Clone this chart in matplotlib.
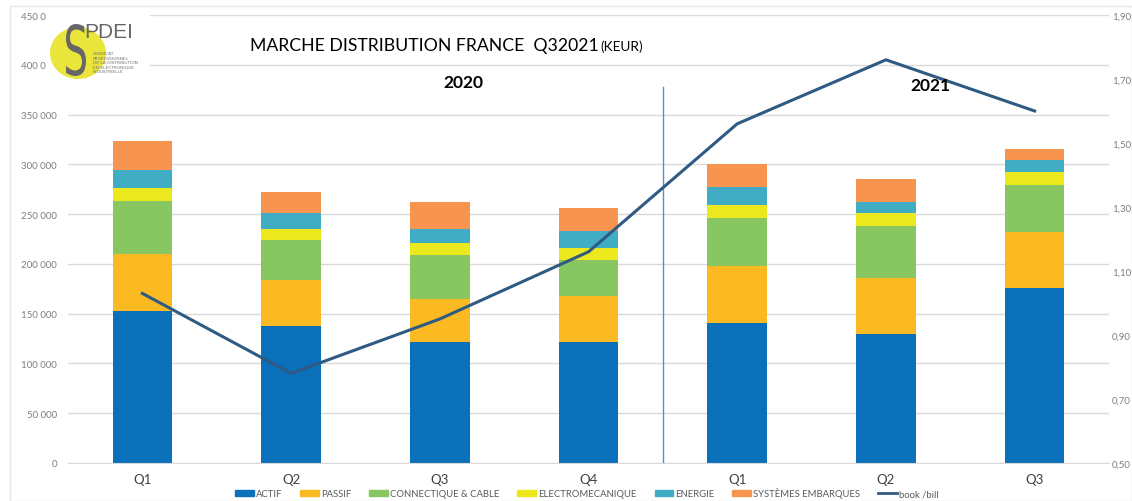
import matplotlib
matplotlib.use("Agg")
import matplotlib.pyplot as plt
import matplotlib.patches as mpatches
from matplotlib.lines import Line2D
from matplotlib.ticker import FuncFormatter, MultipleLocator, FixedLocator
from matplotlib.textpath import TextPath
from matplotlib.font_manager import FontProperties
from matplotlib.transforms import Affine2D, IdentityTransform
import numpy as np

categories = ["Q1", "Q2", "Q3", "Q4", "Q1", "Q2", "Q3"]
series_names = ["ACTIF", "PASSIF", "CONNECTIQUE & CABLE", "ELECTROMECANIQUE", "ENERGIE", "SYSTÈMES EMBARQUES"]
actif = [153000, 137500, 122000, 122000, 140500, 129500, 176000]
passif = [56500, 46500, 43000, 46000, 57500, 56000, 56000]
connectique = [53500, 40000, 44000, 36000, 48000, 53000, 47000]
electromecanique = [13000, 11000, 12000, 12000, 13000, 13000, 13000]
energie = [18000, 16500, 14000, 17000, 18000, 11000, 12500]
systemes = [29000, 20500, 27000, 23000, 23000, 23000, 11000]
book_bill = [1.03, 0.78, 0.95, 1.16, 1.56, 1.76, 1.60]
right_ticks = [0.5, 0.7, 0.9, 1.1, 1.3, 1.5, 1.7, 1.9]
year_labels = ["2020", "2021"]

colors = ["#0A70B9", "#FCBA22", "#88C661", "#EBE81E", "#41ADC4", "#F79550"]
line_color = "#2F5A83"
font = "Lato"

W, H = 1132, 502
fig = plt.figure(figsize=(W / 100, H / 100), dpi=100)
fig.patch.set_facecolor("white")

def px(x0, y0, x1, y1):
    return [x0 / W, 1 - y1 / H, (x1 - x0) / W, (y1 - y0) / H]

ax = fig.add_axes(px(68, 16, 1109, 464))
x = np.arange(len(categories))
stack = [actif, passif, connectique, electromecanique, energie, systemes]
bottom = np.zeros(len(categories))
for vals, c, name in zip(stack, colors, series_names):
    ax.bar(x, vals, 0.40, bottom=bottom, color=c, label=name, zorder=2)
    bottom += np.array(vals)

ax.set_xlim(-0.5, len(categories) - 0.5)
ax.set_ylim(0, 450000)
ax.yaxis.set_major_locator(MultipleLocator(50000))
ax.yaxis.set_major_formatter(FuncFormatter(lambda v, p: "0" if v == 0 else f"{int(v):,}".replace(",", " ")))
ax.grid(axis="y", color="#D9D9D9", linewidth=1, zorder=0)
ax.set_axisbelow(True)
for s in ["top", "left", "right"]:
    ax.spines[s].set_visible(False)
ax.spines["bottom"].set_color("#D9D9D9")
ax.set_xticks(x)
ax.set_xticklabels(categories, fontsize=9.5, color="#404040", family=font)
ax.tick_params(axis="both", length=0)
ax.tick_params(axis="x", pad=7)
ax.tick_params(axis="y", pad=8, labelsize=7, labelcolor="#7F7F7F")
for t in ax.get_yticklabels():
    t.set_family(font)

ax2 = ax.twinx()
ax2.set_ylim(0.5, 1.9)
ax2.yaxis.set_major_locator(FixedLocator(right_ticks))
ax2.yaxis.set_major_formatter(FuncFormatter(lambda v, p: f"{v:.2f}".replace(".", ",")))
ax2.tick_params(axis="y", length=0, pad=2, labelsize=7, labelcolor="#7F7F7F")
for t in ax2.get_yticklabels():
    t.set_family(font)
for s in ["top", "left", "right", "bottom"]:
    ax2.spines[s].set_visible(False)
ax2.plot(x, book_bill, color=line_color, linewidth=2.2, zorder=5, label="book /bill")

# separator between years
ax.plot([3.5, 3.5], [0, 378000], color="#5B8BD0", linewidth=1, zorder=3)

# texts
fig.text(250 / W, 1 - 46 / H, "MARCHE DISTRIBUTION FRANCE  Q32021", fontsize=12.7, family=font,
         color="#000000", va="center", ha="left")
fig.text(600 / W, 1 - 47 / H, "(KEUR)", fontsize=9.8, family=font, color="#000000", va="center", ha="left")
fig.text(463 / W, 1 - 83 / H, year_labels[0], fontsize=12.5, family=font, weight="bold", va="center", ha="center")
fig.text(930 / W, 1 - 86 / H, year_labels[1], fontsize=12.5, family=font, weight="bold", va="center", ha="center")

# logo area
fig.patches.append(mpatches.Rectangle((46 / W, 1 - 80 / H), 104 / W, 68 / H, transform=fig.transFigure,
                                      facecolor="white", edgecolor="none", zorder=10))
fig.patches.append(mpatches.Ellipse((78 / W, 1 - 54 / H), 56 / W, 52 / H, transform=fig.transFigure,
                                    facecolor="#E9E53A", edgecolor="none", zorder=11))
sp = TextPath((0, 0), "S", size=10, prop=FontProperties(family="DejaVu Sans"))
bb = sp.get_extents()
sx = 20 / bb.width
sy = 52 / bb.height
tr = Affine2D().translate(-bb.x0, -bb.y0).scale(sx, sy).translate(66, H - 77)
fig.patches.append(mpatches.PathPatch(tr.transform_path(sp), transform=IdentityTransform(),
                                      facecolor="#666666", edgecolor="none", zorder=12))
fig.text(84 / W, 1 - 33 / H, "PDEI", fontsize=15, family="Liberation Sans", color="#666666",
         va="center", ha="left", zorder=12)
small = ["SYNDICAT", "PROFESSIONNEL", "DE LA DISTRIBUTION", "EN ELECTRONIQUE", "INDUSTRIELLE"]
for i, s in enumerate(small):
    fig.text(93 / W, 1 - (54 + i * 4.6) / H, s, fontsize=3.2, color="#777777", va="center", ha="left", zorder=12)

# border
fig.patches.append(mpatches.Rectangle((10 / W, 0), 1 - 10 / W, 1 - 7 / H, transform=fig.transFigure,
                                      facecolor="none", edgecolor="#E6E6E6", linewidth=1, zorder=0))

# legend
handles = [mpatches.Patch(color=c) for c in colors] + [Line2D([0], [0], color=line_color, linewidth=2)]
labels = series_names + ["book /bill"]
leg = fig.legend(handles, labels, loc="center", bbox_to_anchor=(587 / W, 1 - 494 / H), ncol=7, frameon=False,
                 handlelength=2.0, handleheight=0.55, handletextpad=0.2, columnspacing=1.9,
                 prop={"family": font, "size": 6.8})
for t in leg.get_texts():
    t.set_color("#595959")

fig.savefig("out.png", dpi=100, facecolor="white")
